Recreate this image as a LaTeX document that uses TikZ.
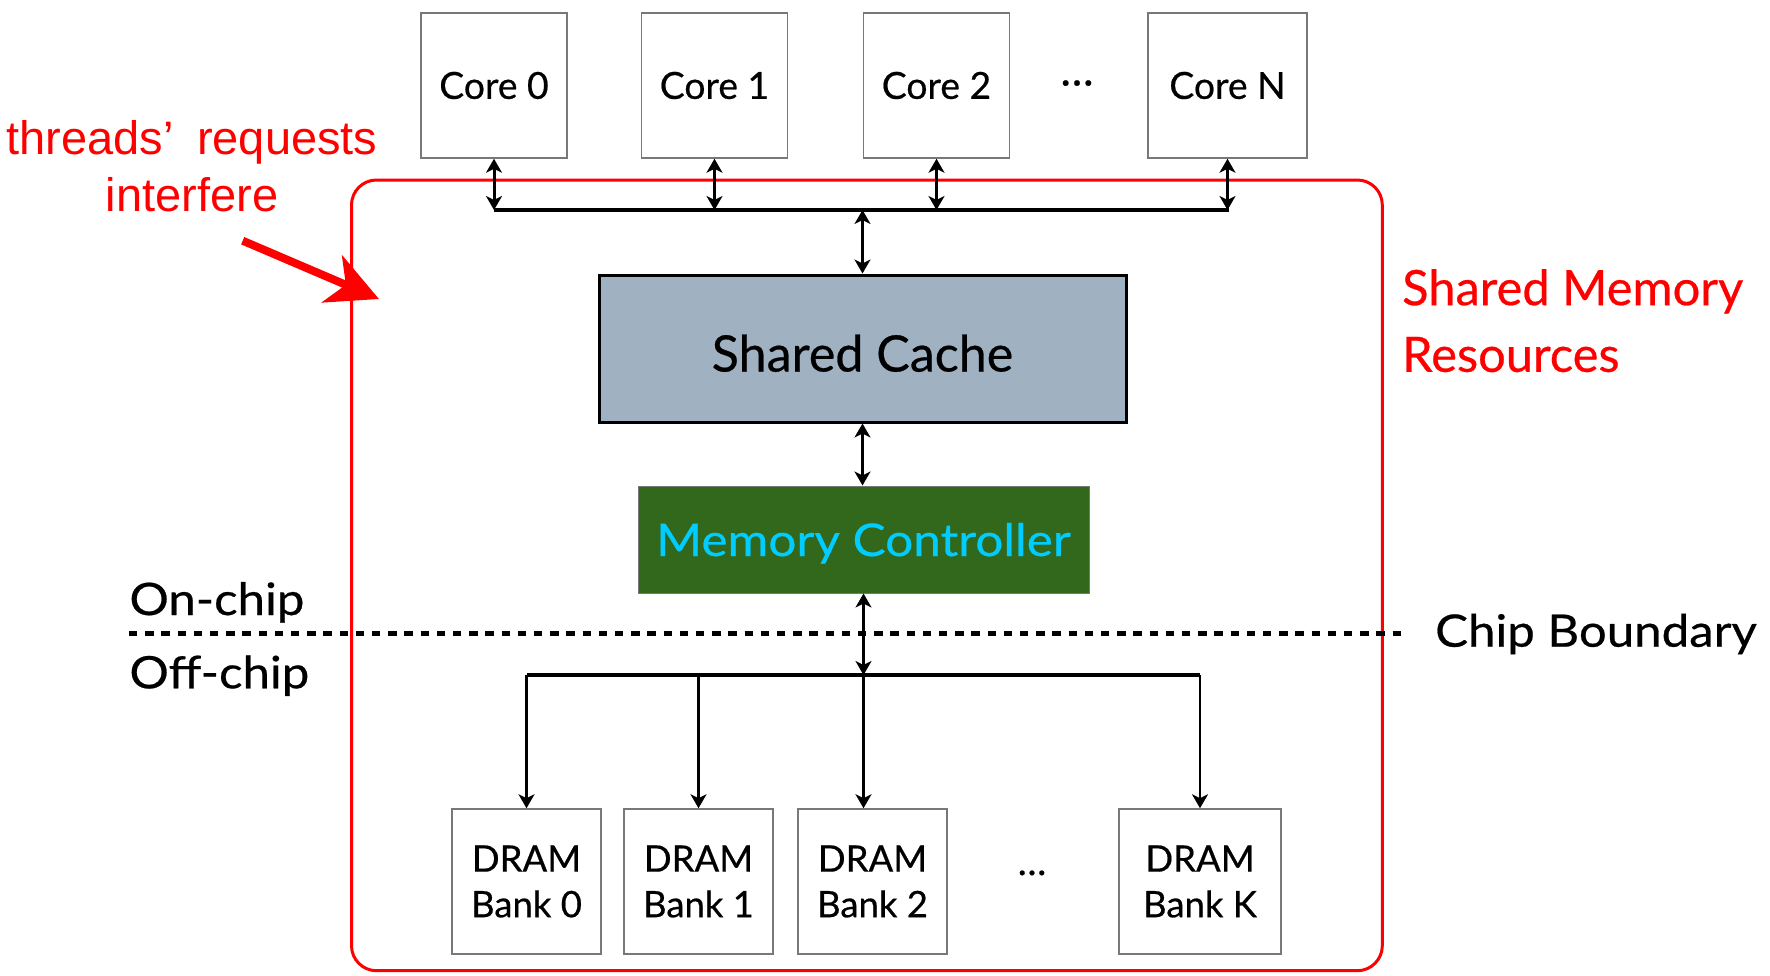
\documentclass[tikz,border=0pt]{standalone}
\usepackage{fontspec}
\setmainfont{Lato}[FakeBold=0.5]
\newfontfamily\widefont{Lato}[FakeStretch=1.1, FakeBold=0.5]
\newfontfamily\arialfont{Liberation Sans}
\usetikzlibrary{arrows.meta}

\definecolor{cachefill}{RGB}{160,177,194}
\definecolor{mcfill}{RGB}{49,104,27}
\definecolor{mctext}{RGB}{0,204,255}
\definecolor{boxgray}{RGB}{120,120,120}

\tikzset{
  corebox/.style={draw=boxgray, line width=1.5pt, fill=white, minimum width=146pt,
    minimum height=145pt, inner sep=0pt, text height=26.7pt, text depth=0pt,
    font=\fontsize{37.3}{45}\selectfont},
  drambox/.style={draw=boxgray, line width=1.5pt, fill=white, minimum width=149pt,
    minimum height=145pt, inner sep=0pt, align=center,
    font=\fontsize{36.5}{45.6}\selectfont},
  tip/.tip={Stealth[length=14pt,width=16pt,inset=4pt]},
  dbl/.style={line width=3pt, tip-tip},
  dn/.style={line width=2.8pt, -tip},
  busline/.style={line width=3.2pt},
  bigtext/.style={inner sep=0pt, font=\widefont\fontsize{44.7}{54}\selectfont},
  redtext/.style={inner sep=0pt, text=red},
}

\begin{document}
\begin{tikzpicture}[x=1pt, y=-1pt]
\useasboundingbox (0,0) rectangle (1770,975);

% shared memory region
\draw[red, line width=3pt, rounded corners=25pt] (351.5,180) rectangle (1382.3,970.7);

% cores
\node[corebox] (c0) at (494,85.5) {Core 0};
\node[corebox] (c1) at (714.5,85.5) {Core 1};
\node[corebox] (c2) at (936.5,85.5) {Core 2};
\node[corebox, minimum width=159pt] (cn) at (1227.5,85.5) {Core N};
\node[inner sep=0pt, anchor=base, font=\fontsize{44}{50}\selectfont] (cdots) at (1077,85.5) {\dots};

% core bus
\coordinate (busL) at (494,210);
\coordinate (busR) at (1228.5,210);
\draw[busline] (busL) -- (busR);
\draw[dbl] (c0.south) -- (c0.south |- busL);
\draw[dbl] (c1.south) -- (c1.south |- busL);
\draw[dbl] (c2.south) -- (c2.south |- busL);
\draw[dbl] (cn.south) -- (cn.south |- busL);

% shared cache
\node[draw=black, line width=3pt, fill=cachefill, minimum width=527pt, minimum height=147pt,
  inner sep=0pt, text height=36pt, text depth=0pt, font=\fontsize{50.2}{60}\selectfont]
  (sc) at (862.5,348.5) {\raisebox{-5pt}{Shared Cache}};
\draw[dbl] (sc.north |- busL) -- (sc.north);

% memory controller
\node[draw=boxgray, line width=1pt, fill=mcfill, text=mctext, minimum width=451pt,
  minimum height=107pt, inner sep=0pt, text height=33pt, text depth=0pt,
  font=\widefont\fontsize{45}{54}\selectfont] (mc) at (863.5,539.5) {Memory Controller};
\draw[dbl] (sc.south) -- (sc.south |- mc.north);

% chip boundary
\coordinate (cbL) at (129,633.3);
\coordinate (cbR) at (1402,633.3);
\draw[line width=4.5pt, dash pattern=on 8.3pt off 7.9pt] (cbL) -- (cbR);
\node[bigtext, anchor=base west] (onchip) at (129.3,615) {On-chip};
\node[bigtext, anchor=base west] (offchip) at (129.3,688.3) {Off-chip};
\node[bigtext, anchor=base west] (cbound) at (1435,646.7) {Chip Boundary};

% DRAM banks
\node[drambox] (d0) at (526.5,881.5) {DRAM\\Bank 0};
\node[drambox] (d1) at (698.5,881.5) {DRAM\\Bank 1};
\node[drambox] (d2) at (872.5,881.5) {DRAM\\Bank 2};
\node[drambox, minimum width=162pt] (dk) at (1200,881.5) {DRAM\\Bank K};
\node[inner sep=0pt, anchor=base, font=\fontsize{38}{44}\selectfont] (ddots) at (1032,875) {\dots};

% memory bus
\coordinate (bus2) at (863.5,675);
\draw[busline] (d0.north |- bus2) -- (dk.north |- bus2);
\draw[dbl] (mc.south) -- (bus2);
\draw[dn] (d0.north |- bus2) -- (d0.north);
\draw[dn] (d1.north |- bus2) -- (d1.north);
\draw[dn] (bus2) -- (bus2 |- d2.north);
\draw[dn] (dk.north |- bus2) -- (dk.north);

% labels
\node[redtext, anchor=north west, align=left, font=\fontsize{48.8}{66.7}\selectfont]
  (smr) at (1402,269) {Shared Memory\\Resources};
\node[redtext, anchor=north, align=center, font=\arialfont\fontsize{47}{57}\selectfont]
  (thr) at (192,120) {threads’\hspace{0.5em}requests\\interfere};

% pointer arrow
\coordinate (ptail) at (242.7,240.7);
\coordinate (ptip) at (379,299);
\draw[red, line width=8pt, -{Stealth[length=51pt,width=51pt,inset=15pt]}] (ptail) -- (ptip);
\end{tikzpicture}
\end{document}
